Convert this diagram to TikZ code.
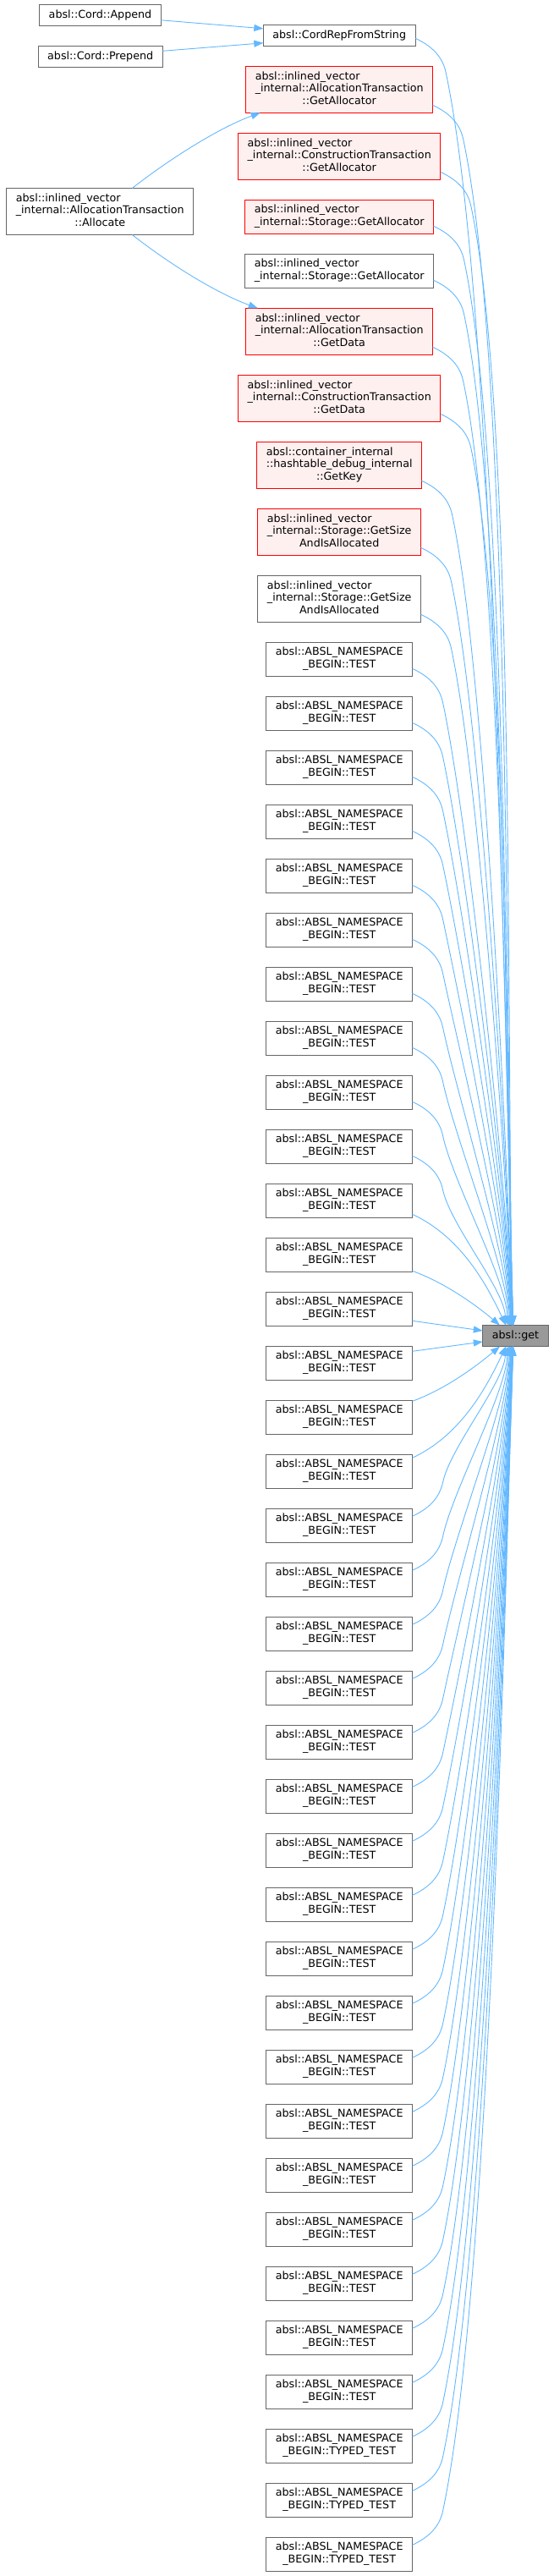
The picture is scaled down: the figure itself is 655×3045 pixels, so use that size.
\documentclass[tikz,border=0pt]{standalone}
\usepackage{fontspec}
\setmainfont{DejaVu Sans}
\usetikzlibrary{arrows.meta,positioning,calc}

\definecolor{edgeblue}{HTML}{63B8FF}
\definecolor{boxgray}{HTML}{666666}
\definecolor{truncfill}{HTML}{FFF0F0}
\definecolor{getfill}{HTML}{999999}

% label lines: left aligned, last line centred
\newcommand{\lbltwo}[2]{\begin{tabular}{@{}l@{}}#1\\\multicolumn{1}{@{}c@{}}{#2}\end{tabular}}
\newcommand{\lblthree}[3]{\begin{tabular}{@{}l@{}}#1\\#2\\\multicolumn{1}{@{}c@{}}{#3}\end{tabular}}

% caller above / below absl::get: #2 shift on get, #3 handle length
\newcommand{\callup}[3]{\draw[call] ($(#1.south east)+(0,9)$) .. controls +(-25:20) and +(102:20) .. ++(36,-40)
  .. controls +(-78:#3) and +(92:#3) .. ($(get.north)+(-#2,0)$);}
\newcommand{\calldown}[3]{\draw[call] ($(#1.north east)+(0,-9)$) .. controls +(25:20) and +(-102:20) .. ++(36,40)
  .. controls +(78:#3) and +(-92:#3) .. ($(get.south)+(-#2,0)$);}

\begin{document}
\begin{tikzpicture}[
  x=1pt,y=1pt,
  node distance=24pt,
  fn/.style={draw=boxgray,fill=white,line width=1pt,outer sep=0pt,
             inner xsep=11pt,inner ysep=0pt,minimum height=25pt,
             font={\fontsize{12.7}{14.7}\selectfont}},
  trunc/.style={fn,draw=red,fill=truncfill},
  twoline/.style={minimum height=40pt},
  threeline/.style={minimum height=55pt},
  call/.style={draw=edgeblue,line width=0.9pt,-{Triangle[length=11pt,width=8pt]}}
]
\useasboundingbox (0,0) rectangle (655,-3045);

% left column
\node[fn] (append) at (118.5,-17.8) {absl::Cord::Append};
\node[fn] (prepend) at (118.7,-67.3) {absl::Cord::Prepend};
\node[fn,threeline] (allocate) at (118.3,-250) {\lblthree{absl::inlined\_vector}{\_internal::AllocationTransaction}{::Allocate}};

% middle column
\node[fn] (cordrep) at (401.2,-41.8) {absl::CordRepFromString};
\node[trunc,threeline,below=of cordrep] (atgetalloc) {\lblthree{absl::inlined\_vector}{\_internal::AllocationTransaction}{::GetAllocator}};
\node[trunc,threeline,below=of atgetalloc] (ctgetalloc) {\lblthree{absl::inlined\_vector}{\_internal::ConstructionTransaction}{::GetAllocator}};
\node[trunc,twoline,below=of ctgetalloc] (stgetallocr) {\lbltwo{absl::inlined\_vector}{\_internal::Storage::GetAllocator}};
\node[fn,twoline,below=of stgetallocr] (stgetalloc) {\lbltwo{absl::inlined\_vector}{\_internal::Storage::GetAllocator}};
\node[trunc,threeline,below=of stgetalloc] (atgetdata) {\lblthree{absl::inlined\_vector}{\_internal::AllocationTransaction}{::GetData}};
\node[trunc,threeline,below=of atgetdata] (ctgetdata) {\lblthree{absl::inlined\_vector}{\_internal::ConstructionTransaction}{::GetData}};
\node[trunc,threeline,below=of ctgetdata] (getkey) {\lblthree{absl::container\_internal}{::hashtable\_debug\_internal}{::GetKey}};
\node[trunc,threeline,below=of getkey] (getsizer) {\lblthree{absl::inlined\_vector}{\_internal::Storage::GetSize}{AndIsAllocated}};
\node[fn,threeline,below=of getsizer] (getsize) {\lblthree{absl::inlined\_vector}{\_internal::Storage::GetSize}{AndIsAllocated}};
\node[fn,twoline,below=of getsize] (t0) {\lbltwo{absl::ABSL\_NAMESPACE}{\_BEGIN::TEST}};
\foreach \k in {1,...,35} {
  \pgfmathtruncatemacro\prev{\k-1}
  \ifnum\k<33
    \node[fn,twoline,below=of t\prev] (t\k) {\lbltwo{absl::ABSL\_NAMESPACE}{\_BEGIN::TEST}};
  \else
    \node[fn,twoline,below=of t\prev] (t\k) {\lbltwo{absl::ABSL\_NAMESPACE}{\_BEGIN::TYPED\_TEST}};
  \fi
}

% callee
\node[fn,fill=getfill] (get) at (609.5,-1579) {absl::get};

% edges
\draw[call] ($(append.east)+(0,-6)$) -- ($(cordrep.west)+(0,8)$);
\draw[call] ($(prepend.east)+(0,7)$) -- ($(cordrep.west)+(0,-9)$);
\draw[call] ($(allocate.north)+(38,0)$) .. controls +(38:60) and +(200:50) .. ($(atgetalloc.south west)+(17,0)$);
\draw[call] ($(allocate.south)+(38,0)$) .. controls +(-38:60) and +(160:50) .. ($(atgetdata.north west)+(14,0)$);

\foreach \nd/\d in {cordrep/1537,atgetalloc/1473,ctgetalloc/1394,stgetallocr/1322,stgetalloc/1258,
                    atgetdata/1186,ctgetdata/1108,getkey/1029,getsizer/950,getsize/872}
  {\pgfmathsetmacro\off{1+2400/\d}\pgfmathsetmacro\hd{0.19*\d}\callup{\nd}{\off}{\hd}}
\foreach \k in {0,...,9}
  {\pgfmathsetmacro\d{800-64*\k}\pgfmathsetmacro\off{1+2400/\d}\pgfmathsetmacro\hd{0.19*\d}\callup{t\k}{\off}{\hd}}
\foreach \k in {16,...,35}
  {\pgfmathsetmacro\d{64*\k-800}\pgfmathsetmacro\off{1+2400/\d}\pgfmathsetmacro\hd{0.19*\d}\calldown{t\k}{\off}{\hd}}

\draw[call] ($(t10.south east)+(0,4)$) .. controls +(-25:60) and +(115:60) .. ($(get.north)+(-11.5,0)$);
\draw[call] ($(t11.south east)+(0,1)$) .. controls +(-20:40) and +(140:40) .. ($(get.north)+(-18.5,0)$);
\draw[call] ($(t12.east)+(0,-14)$) -- ($(get.west)+(0,6)$);
\draw[call] ($(t13.east)+(0,14)$) -- ($(get.west)+(0,-7)$);
\draw[call] ($(t14.north east)+(0,-1)$) .. controls +(20:40) and +(-140:40) .. ($(get.south)+(-18.5,0)$);
\draw[call] ($(t15.north east)+(0,-4)$) .. controls +(25:60) and +(-115:60) .. ($(get.south)+(-11.5,0)$);
\end{tikzpicture}
\end{document}
